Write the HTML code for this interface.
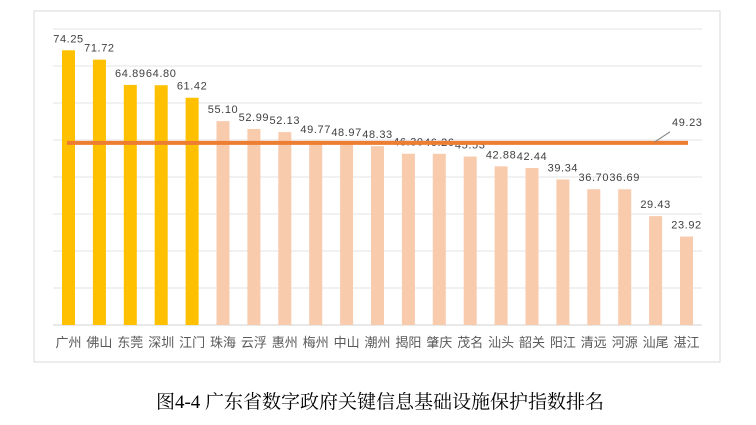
<!DOCTYPE html>
<html><head><meta charset="utf-8"><style>
body{margin:0;background:#fff;}
svg text{font-family:"Liberation Sans","Noto Sans CJK SC",sans-serif;}
</style></head><body>
<svg width="756" height="420" viewBox="0 0 756 420">
<rect x="34" y="11" width="686" height="351" fill="#fff" stroke="#d9d9d9" stroke-width="1"/>
<g id="grid"></g><g id="bars"></g><g id="labels"></g><g id="cats"></g><g id="avg"></g>
<text x="380" y="408" text-anchor="middle" font-size="19" fill="#000" style="font-family:'Liberation Serif','Noto Serif CJK SC',serif">图4-4  广东省数字政府关键信息基础设施保护指数排名</text>
</svg>
<script>
const categories=["广州","佛山","东莞","深圳","江门","珠海","云浮","惠州","梅州","中山","潮州","揭阳","肇庆","茂名","汕头","韶关","阳江","清远","河源","汕尾","湛江"];
const values=[74.25,71.72,64.89,64.80,61.42,55.10,52.99,52.13,49.77,48.97,48.33,46.30,46.26,45.53,42.88,42.44,39.34,36.70,36.69,29.43,23.92];
const highlightCount=5;
const average=49.23;
const gridTicks=[0,10,20,30,40,50,60,70,80];
const NS="http://www.w3.org/2000/svg";
const y=v=>325-v*3.7;
const x=i=>68.5+i*30.9;
function mk(t,a,p){const e=document.createElementNS(NS,t);for(const k in a)e.setAttribute(k,a[k]);document.getElementById(p).appendChild(e);return e;}
gridTicks.forEach(t=>{const l=mk('line',{x1:53,x2:702,y1:y(t),y2:y(t),stroke:t===0?'#d0d0d0':'#e3e3e3','stroke-width':1},'grid');

});
values.forEach((v,i)=>{
const b=mk('rect',{x:x(i)-6.5,y:y(v),width:13,height:325-y(v),fill:i<highlightCount?'#FFC000':'#F8CBAD'},'bars');


const t=mk('text',{x:x(i),y:y(v)-8,'text-anchor':'middle','font-size':11,fill:'#404040','letter-spacing':'0.6'},'labels');
t.textContent=v.toFixed(2);


const c=mk('text',{x:x(i),y:347,'text-anchor':'middle','font-size':13,fill:'#595959'},'cats');
c.textContent=categories[i];


});
const al=mk('line',{x1:67,x2:688,y1:y(average),y2:y(average),stroke:'#ED7D31','stroke-width':4},'avg');


const ld=mk('line',{x1:655,y1:y(average)-1,x2:670,y2:y(average)-11,stroke:'#808080','stroke-width':1},'avg');


const at=mk('text',{x:672,y:y(average)-17,'font-size':11,fill:'#404040','letter-spacing':'0.6'},'avg');
at.textContent=average.toFixed(2);


</script>
</body></html>
